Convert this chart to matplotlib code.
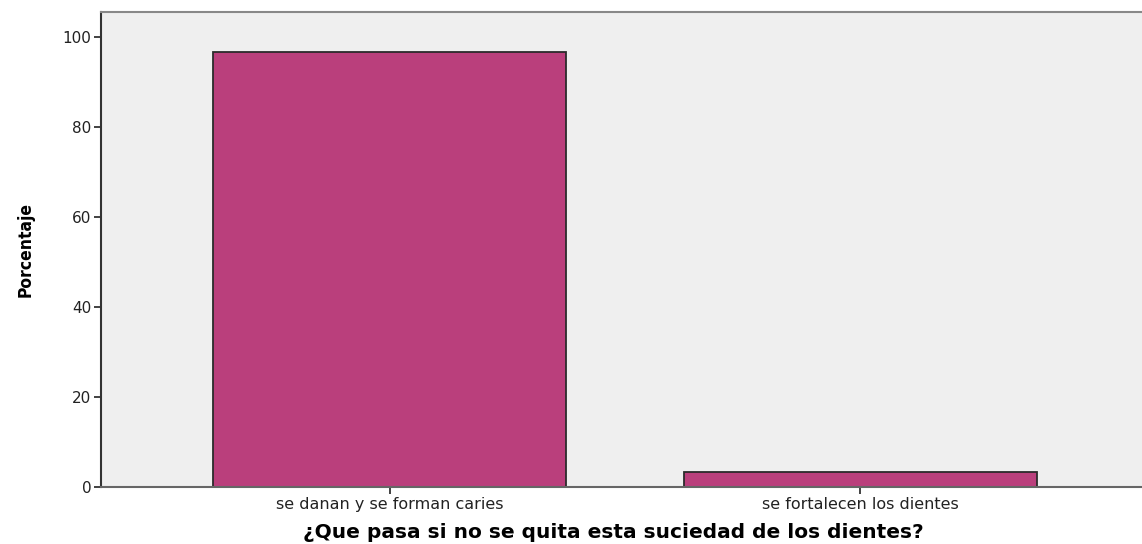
import matplotlib
matplotlib.use("Agg")
import matplotlib.pyplot as plt

categorias = ["se danan y se forman caries", "se fortalecen los dientes"]
porcentaje = [96.7, 3.3]
yticks = [0, 20, 40, 60, 80, 100]

fig = plt.figure(figsize=(11.42, 5.44), dpi=100)
# axes runs a bit past the right edge, like the cropped original
ax = fig.add_axes([101 / 1142, 1 - 487 / 544, 1048 / 1142, 475 / 544])
ax.set_facecolor("#efefef")

x = list(range(len(categorias)))
ax.bar(x, porcentaje, width=0.75, color="#ba3f7c", edgecolor="#2b2b2b", linewidth=1.3, zorder=2)

ax.set_xlim(-0.614, 1.614)
ax.set_ylim(0, 105.5)
ax.set_yticks(yticks)
ax.set_xticks(x)
ax.set_xticklabels(categorias, fontsize=11.5, color="#222222")
ax.tick_params(axis="y", labelsize=11, length=5, width=1.3, color="#333333", labelcolor="#222222", pad=2)
ax.tick_params(axis="x", length=5, width=1.3, color="#333333", pad=2)

for s in ["top", "right"]:
    ax.spines[s].set_color("#888888")
    ax.spines[s].set_linewidth(1.5)
ax.spines["left"].set_color("#333333")
ax.spines["left"].set_linewidth(1.5)
ax.spines["bottom"].set_color("#666666")
ax.spines["bottom"].set_linewidth(1.5)

ax.set_xlabel("¿Que pasa si no se quita esta suciedad de los dientes?", fontsize=14.5,
              fontweight="bold", labelpad=7)
ax.xaxis.set_label_coords(0.4885, -0.075)
ax.set_ylabel("Porcentaje", fontsize=12.5, fontweight="bold", fontstretch="condensed",
              family=["DejaVu Sans"], labelpad=20)

fig.savefig("out.png", dpi=100)
